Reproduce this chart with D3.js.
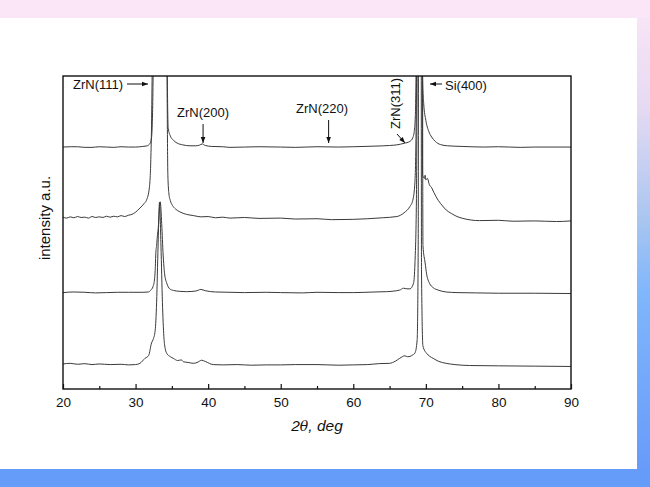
<!DOCTYPE html>
<html><head><meta charset="utf-8">
<script src="https://cdn.jsdelivr.net/npm/d3@7/dist/d3.min.js"></script>
<style>
html,body{margin:0;padding:0;}
body{width:650px;height:487px;overflow:hidden;}
text{font-family:"Liberation Sans",Arial,Helvetica,sans-serif;}
</style></head>
<body><svg id="c" width="650" height="487"></svg>
<script>
// ---- data (2theta in deg, intensity in a.u.) ----
const xTicks = [20, 30, 40, 50, 60, 70, 80, 90];
const xMinorTicks = [25, 35, 45, 55, 65, 75, 85];
const offsets = [77.3, 54.3, 30.8, 7.7];
const trace1 = [[20,0],[21,0.1],[22,0.1],[23,-0.1],[24,-0.1],[25,0.1],[26,0],[27,-0.1],[28,0.1],[29,0],[30,0],[31,0.2],[31.6,0.4],[32.0,1.2],[32.2,3],[32.35,12],[32.5,40],[32.8,120],[33.5,250],[33.9,250],[34.2,120],[34.35,30],[34.5,6],[34.8,3.5],[35.2,2.2],[35.7,1.3],[36.5,0.7],[37.5,0.4],[38.3,0.4],[38.8,0.6],[39.2,1.0],[39.6,0.5],[40.5,0.2],[42,0.1],[43,-0.1],[45,0],[47,0.1],[50,0],[52,-0.1],[55,0.1],[58,0],[60,0.1],[63,0.3],[65,0.5],[66,0.7],[67,1.2],[67.8,1.8],[68.2,3],[68.4,5],[68.55,10],[68.65,25],[68.8,100],[69.0,400],[69.3,400],[69.45,60],[69.55,22],[69.7,14],[70.0,8.5],[70.4,5],[70.8,3.2],[71.3,1.8],[72,0.8],[73,0.4],[75,0.2],[78,0],[80,0.1],[83,-0.1],[85,0],[90,0]];
const trace2 = [[20,0.6],[20.5,0.3],[21,0.7],[21.5,0.4],[22,0.8],[22.5,0.5],[23,0.6],[23.5,0.3],[24,0.8],[24.5,0.5],[25,0.7],[25.5,0.5],[26,0.9],[26.5,0.6],[27,0.9],[27.5,0.7],[28,1.1],[28.5,0.8],[29,1.2],[29.5,1.5],[30,2.2],[30.6,3.5],[31.2,5],[31.5,6],[31.9,10],[32.1,19],[32.2,30],[32.3,50],[32.6,150],[33.5,250],[34.0,200],[34.3,60],[34.45,14],[34.6,8],[34.8,5.8],[35.1,4.3],[35.5,3.2],[36.1,2.3],[37,1.5],[38,1.1],[39,0.7],[40,0.8],[41,0.4],[42,0.6],[43,0.3],[45,0.5],[47,0.2],[50,0.3],[52,0],[55,0.1],[57,-0.2],[60,-0.1],[62,0.1],[64,0.4],[66,0.8],[67,2],[67.8,4],[68.2,6],[68.5,12],[68.7,40],[68.9,150],[69.1,400],[69.35,400],[69.48,100],[69.55,14],[69.8,13],[69.9,14],[70.0,12.5],[70.2,13],[70.5,10.9],[70.8,10],[71.1,8.5],[71.7,6],[72.3,4.2],[72.8,2.9],[73.5,1.8],[74.3,0.8],[75.1,0.2],[77.4,-0.5],[80,-0.4],[82,-0.7],[85,-0.6],[88,-0.8],[90,-0.6]];
const trace3 = [[20,0],[21.5,0.2],[23,0.1],[24.5,-0.1],[26,0],[27.5,0.1],[29,0.1],[31,0.1],[31.8,0.2],[32.1,0.8],[32.4,1.9],[32.6,4],[32.7,7],[32.8,13],[32.9,15],[33.0,18],[33.1,20],[33.4,29],[33.6,22],[33.8,12],[34.0,6],[34.3,3],[34.7,1.2],[35.2,0.7],[36.1,0.4],[37,0.3],[38.3,0.5],[39,1],[39.6,0.6],[41,0.2],[43,0.1],[45,0],[48,0.1],[50,0],[53,-0.1],[55,0.1],[58,0],[60,0],[63,0.2],[64.6,0.3],[66.4,0.8],[66.9,1.4],[67.4,1.2],[67.8,1.2],[68.3,3],[68.5,9.5],[68.7,30],[68.9,150],[69.1,400],[69.4,400],[69.6,15],[69.9,9.5],[70.1,6],[70.5,3],[71.0,1.6],[71.7,0.8],[72.8,0.2],[74.3,0],[77,-0.1],[80,-0.2],[85,-0.2],[90,-0.3]];
const trace4 = [[20,0.3],[21,0.5],[22,0.2],[23,0.4],[24,0.1],[25,0.3],[26.5,0.1],[28,0.2],[29,0],[30,0.1],[30.6,0.5],[31.3,2.1],[31.8,3],[32.2,7],[32.4,8],[32.7,11],[32.9,20],[33.1,38],[33.3,52],[33.5,38],[33.7,20],[33.9,9],[34.1,5],[34.3,3.7],[34.8,2.6],[35.2,2.1],[35.8,1.4],[36.3,1.6],[36.6,1.0],[37.2,0.8],[38,0.5],[38.6,0.9],[39.1,1.5],[39.6,1.1],[40.7,0.1],[42,0],[44,0.1],[46,-0.1],[48,0],[50,0],[52,0.1],[55,0.1],[58,-0.1],[60,0],[62,0.1],[63.5,0.4],[65,0.5],[65.8,1.2],[66.4,2.1],[67.1,2.9],[67.5,2.6],[67.8,2.7],[68.2,3.2],[68.5,3.8],[68.8,8],[68.95,40],[69.05,300],[69.3,300],[69.4,30],[69.6,6],[70.1,3.7],[70.5,2.8],[71.0,2.1],[71.8,1.1],[72.8,0.5],[74,0.1],[76,-0.2],[80,-0.3],[85,-0.4],[90,-0.5]];
const traces = [trace1, trace2, trace3, trace4];
const annotations = [
  {label:"ZrN(111)"}, {label:"ZrN(200)"}, {label:"ZrN(220)"}, {label:"ZrN(311)"}, {label:"Si(400)"}
];

// ---- layout ----
const svg = d3.select("#c");
const W = 650, H = 487;
const defs = svg.append("defs");
const g1 = defs.append("linearGradient").attr("id","bgR").attr("x1",0).attr("y1",0).attr("x2",0).attr("y2",1);
g1.append("stop").attr("offset","0%").attr("stop-color","#fbe6f7");
g1.append("stop").attr("offset","22%").attr("stop-color","#e6daf3");
g1.append("stop").attr("offset","45%").attr("stop-color","#a9c6f0");
g1.append("stop").attr("offset","60%").attr("stop-color","#80b6fb");
g1.append("stop").attr("offset","100%").attr("stop-color","#6699fa");
svg.append("rect").attr("width",W).attr("height",H).attr("fill","url(#bgR)");
svg.append("rect").attr("x",0).attr("y",0).attr("width",W).attr("height",18).attr("fill","#fbe6f7");
svg.append("rect").attr("x",0).attr("y",469).attr("width",W).attr("height",18).attr("fill","#659bf9");
svg.append("rect").attr("x",0).attr("y",18).attr("width",637).attr("height",451).attr("fill","#ffffff");

const m = {l:63, r:571, t:76, b:389};
const x = d3.scaleLinear().domain([20,90]).range([m.l, m.r]);
const y = d3.scaleLinear().domain([0,100]).range([m.b, m.t]);

defs.append("clipPath").attr("id","clip").append("rect")
  .attr("x",m.l).attr("y",m.t).attr("width",m.r-m.l).attr("height",m.b-m.t);

const line = d3.line().x(d=>x(d[0])).y(d=>y(d[1])).curve(d3.curveMonotoneX);
const gp = svg.append("g").attr("clip-path","url(#clip)");
traces.forEach((t,i)=>{
  gp.append("path").datum(t.map(d=>[d[0], d[1]+offsets[i]]))
    .attr("d", line).attr("fill","none").attr("stroke","#3a3a3a").attr("stroke-width",1);
});

// frame
svg.append("rect").attr("x",m.l).attr("y",m.t).attr("width",m.r-m.l).attr("height",m.b-m.t)
  .attr("fill","none").attr("stroke","#111").attr("stroke-width",1.4);

// bottom axis (inward ticks)
const ax = svg.append("g").attr("transform",`translate(0,${m.b})`)
  .call(d3.axisBottom(x).tickValues(xTicks).tickSizeInner(-5).tickSizeOuter(0).tickPadding(8).tickFormat(d3.format("d")));
ax.select(".domain").remove();
ax.selectAll("line").attr("stroke","#111").attr("stroke-width",1.2);
ax.selectAll("text").attr("font-size","13.5px").attr("fill","#111").attr("font-family","Liberation Sans, Arial, sans-serif");
const axm = svg.append("g").attr("transform",`translate(0,${m.b})`)
  .call(d3.axisBottom(x).tickValues(xMinorTicks).tickSizeInner(-3).tickSizeOuter(0).tickFormat(""));
axm.select(".domain").remove();
axm.selectAll("line").attr("stroke","#111").attr("stroke-width",1.2);

// axis titles
svg.append("text").attr("x",(m.l+m.r)/2).attr("y",431).attr("text-anchor","middle")
  .attr("font-size","15.5px").attr("font-style","italic").attr("fill","#111")
  .html('2<tspan font-family="DejaVu Serif" font-size="14px">θ</tspan>, deg');
svg.append("text").attr("transform","translate(50,218) rotate(-90)").attr("text-anchor","middle")
  .attr("font-size","15px").attr("fill","#111").text("intensity a.u.");

// annotations
const ann = svg.append("g").attr("font-size","13px").attr("fill","#111");
const arrow = (x1,y1,x2,y2)=>{
  ann.append("line").attr("x1",x1).attr("y1",y1).attr("x2",x2).attr("y2",y2).attr("stroke","#111").attr("stroke-width",1);
  const a = Math.atan2(y2-y1,x2-x1), L=6, w=2.3;
  const p = [[x2,y2],[x2-L*Math.cos(a)+w*Math.sin(a), y2-L*Math.sin(a)-w*Math.cos(a)],[x2-L*Math.cos(a)-w*Math.sin(a), y2-L*Math.sin(a)+w*Math.cos(a)]];
  ann.append("path").attr("d","M"+p.join("L")+"Z").attr("fill","#111");
};
ann.append("text").attr("x",73).attr("y",89).text(annotations[0].label);
arrow(127,84,148,84);
ann.append("text").attr("x",177).attr("y",117).text(annotations[1].label);
arrow(x(39.3),124,x(39.3),143);
ann.append("text").attr("x",296).attr("y",113).text(annotations[2].label);
arrow(x(56.6),120,x(56.6),143);
ann.append("text").attr("transform","translate(400,129) rotate(-90)").text(annotations[3].label);
arrow(397,134,405,143);
ann.append("text").attr("x",445).attr("y",90).text(annotations[4].label);
arrow(442,84,430,84);
</script></body></html>
